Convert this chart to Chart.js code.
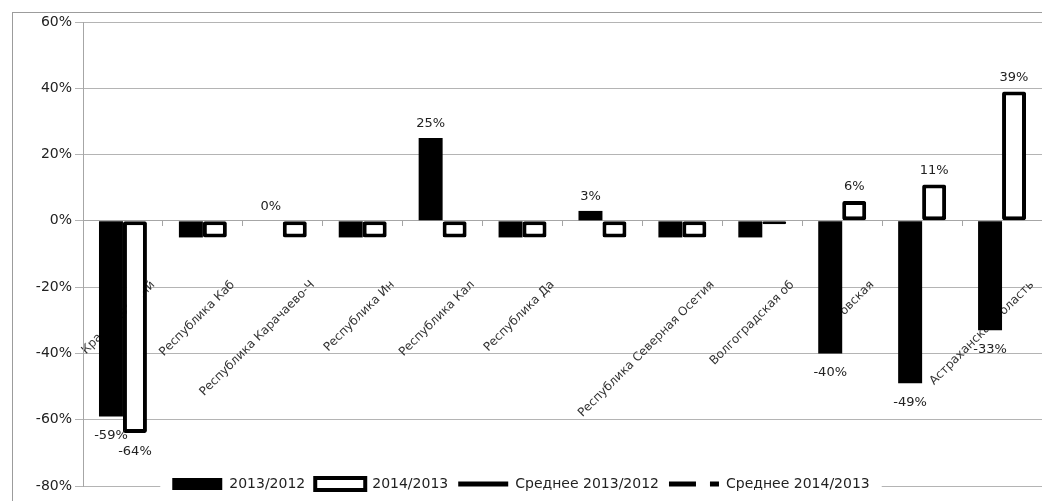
<!DOCTYPE html>
<html><head><meta charset="utf-8">
<script src="https://cdn.jsdelivr.net/npm/chart.js@4.4.1/dist/chart.umd.min.js"></script>
<style>
html,body{margin:0;padding:0;background:#fff;overflow:hidden;}
#wrap{position:relative;width:1042px;height:501px;}
#frame{position:absolute;left:12px;top:12px;width:1100px;height:600px;border-left:1px solid #9c9c9c;border-top:1px solid #9c9c9c;pointer-events:none;}
canvas{position:absolute;left:0;top:0;}
</style></head><body>
<div id="wrap"><canvas id="c" width="1042" height="501"></canvas><div id="frame"></div></div>
<script>
// ---- data ----
const categories = [
  "Краснодарский", "Республика Каб", "Республика Карачаево-Ч", "Республика Ин",
  "Республика Кал", "Республика Да", "", "Республика Северная Осетия",
  "Волгоградская об", "Ростовская", "", "Астраханская область"
];
const growth2013 = [-59, -5, 0, -5, 25, -5, 3, -5, -5, -40, -49, -33];
const growth2014 = [-64, -5, -5, -5, -5, -5, -5, -5, -1, 6, 11, 39];
const mean2013 = [];
const mean2014 = [];
const showLabel2013 = [true, false, true, false, true, false, true, false, false, true, true, true];
const showLabel2014 = [true, false, false, false, false, false, false, false, false, true, true, true];
const seriesNames = ["2013/2012", "2014/2013", "Среднее 2013/2012", "Среднее 2014/2013"];
const yMin = -80, yMax = 60, yStep = 20;

const FONT = "'DejaVu Sans', sans-serif";

const valueLabels = {
  id: 'valueLabels',
  afterDatasetsDraw(chart) {
    const ctx = chart.ctx;
    ctx.save();
    ctx.font = "13px " + FONT;
    ctx.fillStyle = '#222';
    ctx.textAlign = 'center';
    ctx.textBaseline = 'middle';
    [[0, showLabel2013], [1, showLabel2014]].forEach(([di, shown]) => {
      const meta = chart.getDatasetMeta(di);
      const data = chart.data.datasets[di].data;
      meta.data.forEach((bar, i) => {
        if (!shown[i]) return;
        const v = data[i];
        const y = v >= 0 ? bar.y - 14 : bar.y + 19;
        ctx.fillText(v + '%', bar.x, y);
      });
    });
    ctx.restore();
  }
};

const legendPlacer = {
  id: 'legendPlacer',
  afterLayout(chart) {
    const lg = chart.legend;
    if (!lg) return;
    const h = lg.height;
    lg.top = chart.chartArea.bottom - 19;
    lg.bottom = lg.top + h;
  },
  afterDraw(chart) {
    const lg = chart.legend;
    if (!lg || !lg.legendHitBoxes || !lg.legendHitBoxes.length) return;
    const hb = lg.legendHitBoxes;
    let l = Infinity, r = -Infinity;
    hb.forEach(b => { l = Math.min(l, b.left); r = Math.max(r, b.left + b.width); });
    const ctx = chart.ctx;
    ctx.save();
    ctx.fillStyle = '#fff';
    ctx.fillRect(l - 12, lg.top + 7, r - l + 24, 22);
    ctx.restore();
    lg.draw();
  }
};

new Chart(document.getElementById('c'), {
  type: 'bar',
  data: {
    labels: categories,
    datasets: [
      { type: 'bar', label: seriesNames[0], data: growth2013, backgroundColor: '#000', borderWidth: 0,
        categoryPercentage: 0.6, barPercentage: 1.0 },
      { type: 'bar', label: seriesNames[1], data: growth2014, backgroundColor: '#fff', borderColor: '#000',
        borderWidth: 4, borderSkipped: false, borderRadius: 2, categoryPercentage: 0.6, barPercentage: 1.0 },
      { type: 'line', label: seriesNames[2], data: mean2013, borderColor: '#000', backgroundColor: '#000',
        borderWidth: 5, pointRadius: 0 },
      { type: 'line', label: seriesNames[3], data: mean2014, borderColor: '#000', backgroundColor: '#000',
        borderWidth: 5, borderDash: [27, 14], pointRadius: 0 }
    ]
  },
  options: {
    responsive: false,
    animation: false,
    devicePixelRatio: 1,
    layout: { padding: { top: 22, right: 0, bottom: -19, left: 0 } },
    scales: {
      x: {
        position: { y: 0 },
        grid: { drawOnChartArea: false, drawTicks: true, tickLength: 5, color: '#a6a6a6', offset: true },
        border: { color: '#a6a6a6' },
        ticks: { autoSkip: false, minRotation: 45, maxRotation: 45, padding: 52, labelOffset: 30,
          font: { family: FONT, size: 12 }, color: '#333' },
        afterFit: s => { s.paddingLeft = 0; s.paddingRight = 0; }
      },
      y: {
        min: yMin, max: yMax,
        ticks: { stepSize: yStep, callback: v => v + '%', padding: 3,
          font: { family: FONT, size: 14 }, color: '#222' },
        grid: { color: '#b4b4b4', tickLength: 8 },
        border: { color: '#a6a6a6' },
        afterFit: s => { s.width = 83; }
      }
    },
    plugins: {
      tooltip: { enabled: false },
      legend: {
        position: 'bottom',
        labels: {
          usePointStyle: true, pointStyleWidth: 50, boxHeight: 12, padding: 10,
          font: { family: FONT, size: 14 }, color: '#222',
          generateLabels(chart) {
            const items = Chart.defaults.plugins.legend.labels.generateLabels(chart);
            items.sort((a, b) => a.datasetIndex - b.datasetIndex);
            items.forEach(it => {
              const ds = chart.data.datasets[it.datasetIndex];
              if (ds.type === 'line') {
                it.pointStyle = 'line'; it.lineWidth = 5; it.strokeStyle = '#000';
                it.lineDash = ds.borderDash || [];
              } else {
                it.pointStyle = 'rect';
              }
            });
            return items;
          }
        }
      }
    }
  },
  plugins: [valueLabels, legendPlacer]
});
</script>
</body></html>
